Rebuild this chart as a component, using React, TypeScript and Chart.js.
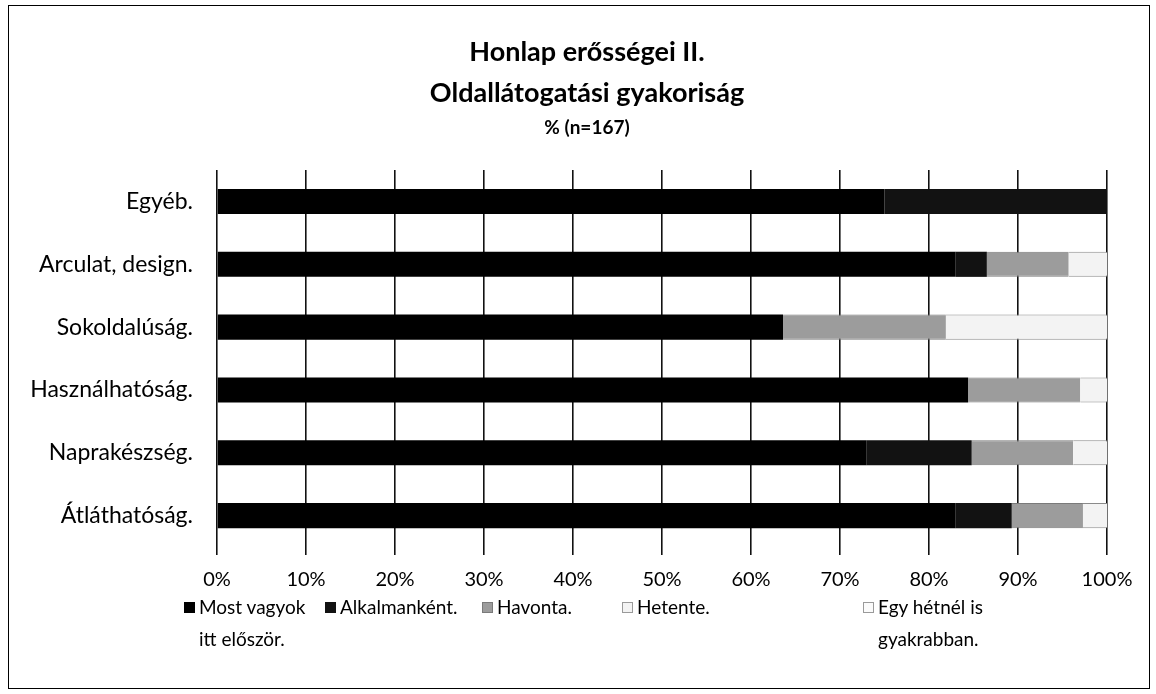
import React, { useEffect, useRef } from "react";
import { Chart, registerables } from "chart.js";

Chart.register(...registerables);

const categories = [
  "Egyéb.",
  "Arculat, design.",
  "Sokoldalúság.",
  "Használhatóság.",
  "Naprakészség.",
  "Átláthatóság.",
];
const seriesNames = [
  "Most vagyok\nitt először.",
  "Alkalmanként.",
  "Havonta.",
  "Hetente.",
  "Egy hétnél is\ngyakrabban.",
];
const mostValues = [75, 83, 63.6, 84.4, 73, 83];
const alkalmankentValues = [25, 3.5, 0, 0, 11.8, 6.3];
const havontaValues = [0, 9.2, 18.3, 12.6, 11.4, 8];
const hetenteValues = [0, 4.3, 18.1, 3, 3.8, 2.7];
const egyHetnelValues = [0, 0, 0, 0, 0, 0];
const xTicks = [0, 10, 20, 30, 40, 50, 60, 70, 80, 90, 100];

const fills = ["#000000", "#121212", "#9c9c9c", "#f3f3f3", "#fbfbfb"];
const borders = ["#000000", "#121212", "#7a7a7a", "#8a8a8a", "#b0b0b0"];
const legendX = [175, 316, 473, 613, 854];

const FONT = "Lato, 'Noto Sans', sans-serif";

export default function App() {
  const ref = useRef<HTMLCanvasElement | null>(null);

  useEffect(() => {
    if (!ref.current) return;
    const values = [mostValues, alkalmankentValues, havontaValues, hetenteValues, egyHetnelValues];
    const chart = new Chart(ref.current, {
      type: "bar",
      data: {
        labels: categories,
        datasets: seriesNames.map((name, i) => ({
          label: name.replace("\n", " "),
          data: values[i],
          backgroundColor: fills[i],
          borderColor: borders[i],
          borderWidth: i >= 2 ? { top: 1, bottom: 1, left: 0, right: 0 } : 0,
          borderSkipped: false,
          categoryPercentage: 1,
          barPercentage: 0.4,
        })),
      },
      options: {
        indexAxis: "y",
        animation: false,
        responsive: false,
        maintainAspectRatio: false,
        layout: { padding: { top: 0, left: 16, right: 0, bottom: 0 } },
        plugins: {
          legend: { display: false },
          tooltip: { enabled: false },
          title: {
            display: true,
            text: ["Honlap erősségei II.", "Oldallátogatási gyakoriság"],
            color: "#000",
            font: { family: FONT, size: 27, weight: "bold", lineHeight: 1.52 },
            padding: { top: 25.5, bottom: 3.1 },
          },
          subtitle: {
            display: true,
            text: "% (n=167)",
            color: "#000",
            font: { family: FONT, size: 19, weight: "bold", lineHeight: 1.2 },
            padding: { top: 0, bottom: 30.6 },
          },
        },
        scales: {
          x: {
            type: "linear",
            stacked: true,
            min: 0,
            max: 100,
            afterBuildTicks: (scale: any) => {
              scale.ticks = xTicks.map((v) => ({ value: v }));
            },
            afterFit: (scale: any) => {
              scale.height = 59;
            },
            ticks: {
              color: "#000",
              padding: 13,
              font: { family: FONT, size: 20 },
              callback: (v: any) => v + "%",
            },
            grid: {
              color: "#111",
              lineWidth: 1.6,
              drawTicks: true,
              tickLength: 8,
            },
            border: { display: false },
          },
          y: {
            stacked: true,
            afterFit: (scale: any) => {
              scale.width = 192;
            },
            ticks: {
              color: "#000",
              padding: 24,
              font: { family: FONT, size: 23 },
            },
            grid: { display: false, drawTicks: false },
            border: { display: false },
          },
          yRight: {
            type: "category",
            axis: "y",
            position: "right",
            display: true,
            afterFit: (scale: any) => {
              scale.width = 42;
            },
            ticks: { display: false },
            grid: { display: false, drawTicks: false },
            border: { display: false },
          },
        },
      },
    });
    return () => chart.destroy();
  }, []);

  return (
    <div
      style={{
        position: "absolute",
        left: 8,
        top: 5,
        width: 1140,
        height: 682,
        border: "1.5px solid #000",
        background: "#fff",
        fontFamily: FONT,
      }}
    >
      <canvas
        ref={ref}
        width={1140}
        height={600}
        style={{ position: "absolute", left: 0, top: 0, width: 1140, height: 600 }}
      />
      {seriesNames.map((name, i) => (
        <div
          key={name}
          style={{
            position: "absolute",
            left: legendX[i],
            top: 585,
            display: "flex",
            alignItems: "flex-start",
            fontSize: 19,
            lineHeight: "32px",
            color: "#000",
          }}
        >
          <span
            style={{
              display: "inline-block",
              width: 9,
              height: 9,
              marginTop: 11,
              marginRight: 4,
              background: fills[i],
              border: `1px solid ${i >= 3 ? "#9a9a9a" : borders[i]}`,
            }}
          />
          <span style={{ whiteSpace: "pre-line" }}>{name}</span>
        </div>
      ))}
    </div>
  );
}
